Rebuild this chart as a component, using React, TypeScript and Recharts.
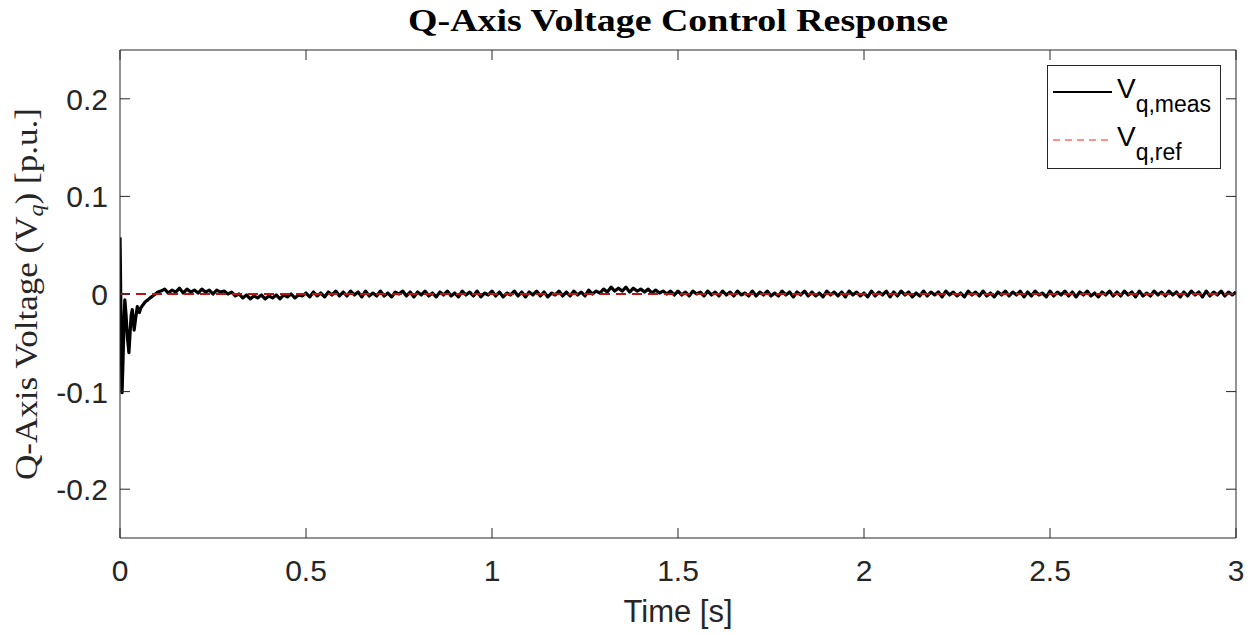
import React from 'react';
import { LineChart, Line, XAxis, YAxis, Legend } from 'recharts';

// Start-up transient of the measured q-axis voltage (time [s], value [p.u.])
const TRANSIENT_T = [0.0, 0.001, 0.003, 0.0055, 0.008, 0.011, 0.013, 0.016, 0.02, 0.024, 0.027, 0.03, 0.033, 0.036, 0.038, 0.042, 0.0465, 0.049, 0.052, 0.056, 0.062, 0.068, 0.075, 0.081, 0.088, 0.095, 0.102, 0.11];
const TRANSIENT_V = [0.058, 0.03, -0.04, -0.101, -0.07, -0.025, -0.006, -0.02, -0.045, -0.06, -0.04, -0.022, -0.016, -0.028, -0.037, -0.025, -0.013, -0.016, -0.019, -0.014, -0.011, -0.008, -0.006, -0.004, -0.002, 0.0, 0.002, 0.003];

// Steady-state samples, one every SAMPLE_DT seconds from SAMPLE_START
const SAMPLE_START = 0.12;
const SAMPLE_DT = 0.01;
const STEADY_V = [
  0.005, 0.001, 0.004, 0.002, 0.006, 0.001, 0.005, 0.002,
  0.004, 0.001, 0.005, 0.002, 0.004, 0.0, 0.004, 0.002, 0.003, 0.0,
  0.002, -0.002, 0.0, -0.004, -0.001, -0.005, -0.002, -0.004, -0.001, -0.005,
  -0.002, -0.004, -0.001, -0.005, -0.001, -0.003, 0.0, -0.004, -0.001, -0.002,
  0.001, -0.003, 0.002, -0.002, 0.001, -0.003, 0.002, -0.001, 0.003, -0.002,
  0.002, -0.002, 0.003, -0.001, 0.002, -0.003, 0.003, -0.002, 0.001, -0.002,
  0.003, -0.002, 0.001, -0.003, 0.002, 0.0, 0.003, -0.002, 0.002, -0.003,
  0.002, -0.001, 0.003, -0.002, 0.001, -0.003, 0.002, -0.001, 0.003, -0.002,
  0.001, -0.003, 0.003, -0.001, 0.002, -0.002, 0.003, -0.003, 0.001, -0.001,
  0.003, -0.002, 0.002, -0.003, 0.001, -0.001, 0.003, -0.002, 0.002, -0.003,
  0.002, -0.001, 0.003, -0.002, 0.002, -0.003, 0.001, -0.001, 0.003, -0.002,
  0.002, -0.002, 0.003, -0.001, 0.002, -0.002, 0.004, 0.0, 0.003, 0.001,
  0.005, 0.002, 0.007, 0.003, 0.006, 0.003, 0.007, 0.002, 0.006, 0.003,
  0.005, 0.002, 0.005, 0.001, 0.004, 0.001, 0.003, 0.0, 0.003, -0.001,
  0.003, -0.001, 0.002, -0.002, 0.003, 0.0, 0.002, -0.002, 0.003, -0.001,
  0.002, -0.002, 0.003, -0.001, 0.002, -0.002, 0.003, -0.001, 0.001, -0.002,
  0.003, -0.002, 0.002, -0.001, 0.003, -0.002, 0.001, -0.002, 0.003, -0.001,
  0.002, -0.003, 0.002, -0.001, 0.003, -0.002, 0.002, -0.002, 0.001, -0.003,
  0.003, -0.001, 0.002, -0.002, 0.002, -0.003, 0.003, -0.001, 0.002, -0.002,
  0.001, -0.003, 0.003, -0.002, 0.002, -0.001, 0.003, -0.003, 0.002, -0.002,
  0.003, -0.001, 0.002, -0.003, 0.001, -0.002, 0.003, -0.002, 0.002, -0.001,
  0.002, -0.003, 0.003, -0.001, 0.002, -0.002, 0.001, -0.003, 0.003, -0.001,
  0.002, -0.002, 0.003, -0.002, 0.001, -0.003, 0.002, -0.001, 0.003, -0.002,
  0.002, -0.001, 0.003, -0.003, 0.002, -0.002, 0.003, -0.001, 0.001, -0.003,
  0.003, -0.002, 0.002, -0.001, 0.003, -0.002, 0.002, -0.003, 0.002, -0.001,
  0.003, -0.002, 0.001, -0.003, 0.002, -0.001, 0.003, -0.002, 0.002, -0.002,
  0.003, -0.001, 0.002, -0.003, 0.003, -0.002, 0.001, -0.002, 0.003, -0.001,
  0.002, -0.002, 0.003, -0.001, 0.002, -0.003, 0.002, -0.002, 0.003, -0.001,
  0.002, -0.003, 0.003, -0.002, 0.002, -0.001, 0.003, -0.002, 0.002, -0.001, 0.002,
];

// Reference value (constant 0 p.u.)
const REF_T = [0, 3];
const REF_V = [0, 0];

const X_TICKS = [0, 0.5, 1, 1.5, 2, 2.5, 3];
const X_TICK_LABELS = ['0', '0.5', '1', '1.5', '2', '2.5', '3'];
const Y_TICKS = [-0.2, -0.1, 0, 0.1, 0.2];
const Y_TICK_LABELS = ['-0.2', '-0.1', '0', '0.1', '0.2'];

const TITLE = 'Q-Axis Voltage Control Response';
const X_LABEL = 'Time [s]';
const SERIES_SUBSCRIPTS = ['q,meas', 'q,ref'];

const measData = [
  ...TRANSIENT_T.map((t, i) => ({ t, v: TRANSIENT_V[i] })),
  ...STEADY_V.map((v, i) => ({ t: +(SAMPLE_START + i * SAMPLE_DT).toFixed(3), v })),
];
const refData = REF_T.map((t, i) => ({ t, v: REF_V[i] }));

const AXIS = '#262626';
const SANS = 'Liberation Sans, Arial, sans-serif';
const SERIF = 'Liberation Serif, Times New Roman, serif';
const TICK_LEN = 10;

const fmtX = (v: number) => X_TICK_LABELS[X_TICKS.indexOf(v)] ?? String(v);
const fmtY = (v: number) => Y_TICK_LABELS[Y_TICKS.indexOf(v)] ?? String(v);

// Inward ticks with labels
const BottomTick = (props: any) => {
  const { x, y, payload } = props;
  const axisY = y - 22;
  return (
    <g>
      <line x1={x} x2={x} y1={axisY} y2={axisY - TICK_LEN} stroke={AXIS} strokeWidth={1} />
      <text x={x} y={y + 21} textAnchor="middle" fontFamily={SANS} fontSize={30} fill={AXIS}>
        {fmtX(payload.value)}
      </text>
    </g>
  );
};
const LeftTick = (props: any) => {
  const { x, y, payload } = props;
  const axisX = x + 12;
  return (
    <g>
      <line x1={axisX} x2={axisX + TICK_LEN} y1={y} y2={y} stroke={AXIS} strokeWidth={1} />
      <text x={x} y={y + 11} textAnchor="end" fontFamily={SANS} fontSize={30} fill={AXIS}>
        {fmtY(payload.value)}
      </text>
    </g>
  );
};
const TopTick = (props: any) => {
  const { x, y } = props;
  return <line x1={x} x2={x} y1={y} y2={y + TICK_LEN} stroke={AXIS} strokeWidth={1} />;
};
const RightTick = (props: any) => {
  const { x, y } = props;
  return <line x1={x} x2={x - TICK_LEN} y1={y} y2={y} stroke={AXIS} strokeWidth={1} />;
};

const renderTitle = (props: any) => {
  const vb = props.viewBox || {};
  return (
    <text
      x={vb.x + vb.width / 2}
      y={31}
      textAnchor="middle"
      fontFamily={SERIF}
      fontWeight="bold"
      fontSize={32}
      fill="#000"
      textLength={540}
      lengthAdjust="spacingAndGlyphs"
    >
      {TITLE}
    </text>
  );
};

const renderXLabel = (props: any) => {
  const vb = props.viewBox || {};
  return (
    <text x={vb.x + vb.width / 2} y={vb.y + 84} textAnchor="middle" fontFamily={SANS} fontSize={31} fill={AXIS}>
      {X_LABEL}
    </text>
  );
};

const renderYLabel = (props: any) => {
  const vb = props.viewBox || {};
  const cy = vb.y + vb.height / 2;
  return (
    <text
      transform={`translate(37,${cy}) rotate(-90)`}
      textAnchor="middle"
      fontFamily={SERIF}
      fontSize={32}
      fill={AXIS}
      textLength={372}
      lengthAdjust="spacingAndGlyphs"
    >
      Q-Axis Voltage (V
      <tspan fontStyle="italic" fontSize={22} dy={6}>q</tspan>
      <tspan dy={-6}>) [p.u.]</tspan>
    </text>
  );
};

const renderLegend = (props: any) => {
  const payload = props.payload || [];
  return (
    <svg width={174} height={104} style={{ display: 'block' }}>
      <rect x={0.5} y={0.5} width={173} height={103} fill="#fff" stroke={AXIS} strokeWidth={1} />
      {payload.map((p: any, i: number) => {
        const ly = 27 + i * 48;
        return (
          <g key={i}>
            <line
              x1={6}
              x2={65}
              y1={ly}
              y2={ly}
              stroke={i === 0 ? '#000' : '#ff2020'}
              strokeWidth={i === 0 ? 2 : 1.2}
              strokeDasharray={i === 0 ? undefined : '7 5'}
            />
            <text x={70} y={ly + 6} fontFamily={SANS} fontSize={28} fill="#000">
              V<tspan fontSize={23} dy={14}>{SERIES_SUBSCRIPTS[i]}</tspan>
            </text>
          </g>
        );
      })}
    </svg>
  );
};

export default function App() {
  return (
    <div style={{ position: 'absolute', left: 0, top: 0, width: 1260, height: 635, background: '#fff' }}>
      <LineChart width={1260} height={635} margin={{ top: 49, right: 23, bottom: 0, left: 0 }}>
        <XAxis
          dataKey="t"
          type="number"
          domain={[0, 3]}
          ticks={X_TICKS}
          interval={0}
          allowDataOverflow
          height={97}
          tickSize={0}
          tickLine={false}
          tickMargin={22}
          stroke={AXIS}
          tick={<BottomTick />}
          label={renderXLabel}
        />
        <XAxis
          xAxisId="top"
          orientation="top"
          dataKey="t"
          type="number"
          domain={[0, 3]}
          ticks={X_TICKS}
          interval={0}
          allowDataOverflow
          height={1}
          tickSize={0}
          tickLine={false}
          tickMargin={0}
          stroke={AXIS}
          tick={<TopTick />}
          label={renderTitle}
        />
        <YAxis
          type="number"
          domain={[-0.25, 0.25]}
          ticks={Y_TICKS}
          interval={0}
          allowDataOverflow
          width={120}
          tickSize={0}
          tickLine={false}
          tickMargin={12}
          stroke={AXIS}
          tick={<LeftTick />}
          label={renderYLabel}
        />
        <YAxis
          yAxisId="right"
          orientation="right"
          type="number"
          domain={[-0.25, 0.25]}
          ticks={Y_TICKS}
          interval={0}
          allowDataOverflow
          width={1}
          tickSize={0}
          tickLine={false}
          tickMargin={0}
          stroke={AXIS}
          tick={<RightTick />}
        />
        <Line
          data={measData}
          dataKey="v"
          name="meas"
          type="linear"
          stroke="#000"
          strokeWidth={3.2}
          strokeLinejoin="round"
          dot={false}
          activeDot={false}
          isAnimationActive={false}
        />
        <Line
          data={refData}
          dataKey="v"
          name="ref"
          xAxisId="top"
          yAxisId="right"
          type="linear"
          stroke="#b81414"
          strokeWidth={2}
          strokeDasharray="10 6"
          dot={false}
          activeDot={false}
          isAnimationActive={false}
        />
        <Legend
          layout="vertical"
          align="center"
          verticalAlign="middle"
          content={renderLegend}
          wrapperStyle={{ left: 1047, top: 65, width: 174, height: 104 }}
        />
      </LineChart>
    </div>
  );
}
